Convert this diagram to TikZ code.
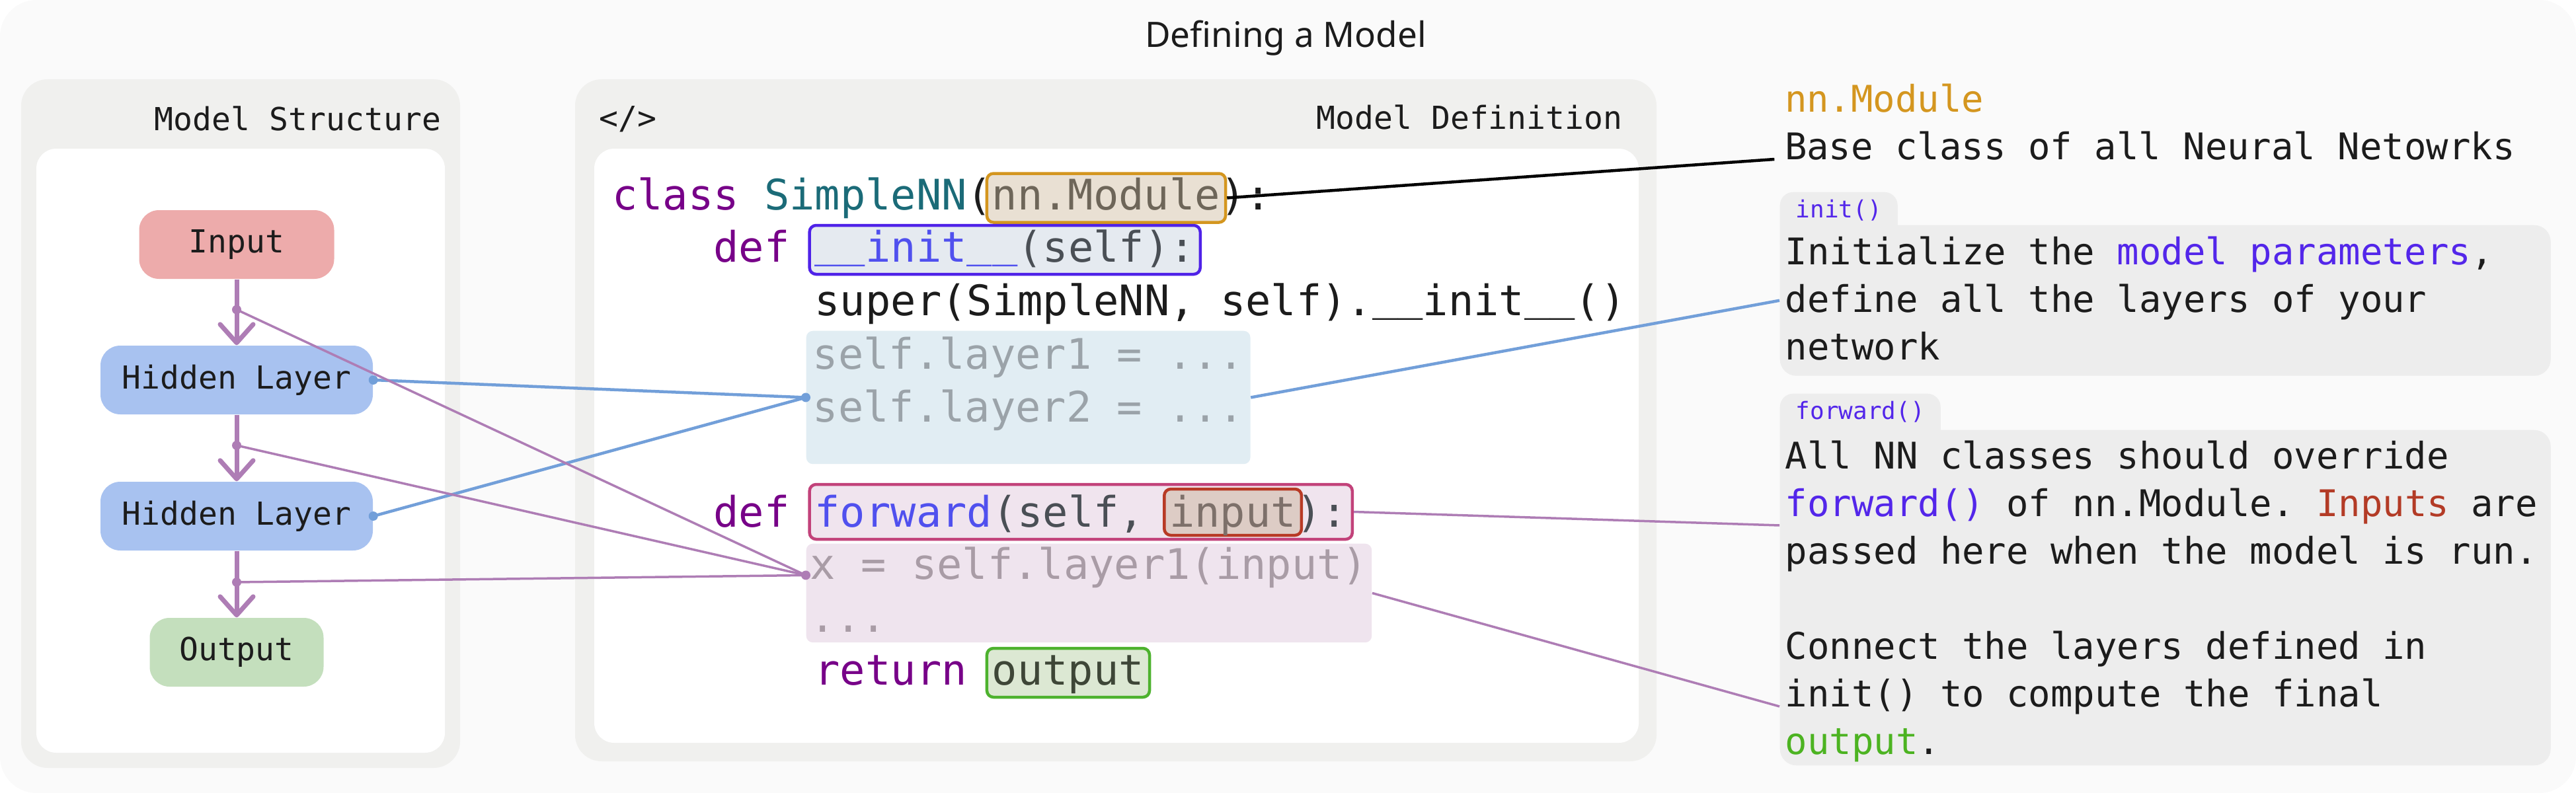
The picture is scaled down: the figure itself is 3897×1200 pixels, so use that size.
\documentclass[tikz,border=0pt]{standalone}
\usepackage{fontspec}
\setmonofont{DejaVu Sans Mono}
\newfontfamily\titlefont{Noto Sans}
\usetikzlibrary{arrows.meta}

\newdimen\px
\px=0.1mm

\definecolor{bgcol}{HTML}{FAFAFA}
\definecolor{panelcol}{HTML}{F0F0EE}
\definecolor{notecol}{HTML}{EDEDED}
\definecolor{inpcol}{HTML}{EDABAB}
\definecolor{hidcol}{HTML}{A8C2F0}
\definecolor{outcol}{HTML}{C4DFBD}
\definecolor{flowcol}{HTML}{AE7DB5}
\definecolor{linkcol}{HTML}{729FD9}
\definecolor{kwcol}{HTML}{770088}
\definecolor{clscol}{HTML}{1B6B78}
\definecolor{fncol}{HTML}{5050EE}
\definecolor{argcol}{HTML}{4A4F55}
\definecolor{modcol}{HTML}{D4961F}
\definecolor{modfill}{HTML}{E9E0D3}
\definecolor{modtxt}{HTML}{6E6659}
\definecolor{initcol}{HTML}{4F22E8}
\definecolor{initfill}{HTML}{E5EAF0}
\definecolor{layerfill}{HTML}{E1EDF3}
\definecolor{layertxt}{HTML}{9BA3A9}
\definecolor{fwdcol}{HTML}{C2427A}
\definecolor{fwdfill}{HTML}{F0E4EE}
\definecolor{argbox}{HTML}{B83A25}
\definecolor{argfill}{HTML}{DDCCC5}
\definecolor{argtxt}{HTML}{7D706A}
\definecolor{blockfill}{HTML}{EFE4EE}
\definecolor{blocktxt}{HTML}{A99CA6}
\definecolor{retcol}{HTML}{4DB22E}
\definecolor{retfill}{HTML}{DCE8D3}
\definecolor{rettxt}{HTML}{3E4637}
\definecolor{hicol}{HTML}{5326EA}
\definecolor{redcol}{HTML}{B33B26}
\definecolor{grncol}{HTML}{4CB321}
\definecolor{inkcol}{HTML}{1C1C1C}

\newcommand\codefont{\ttfamily\fontsize{18.12pt}{22.62pt}\selectfont}
\newcommand\notefont{\ttfamily\fontsize{15.82pt}{20.49pt}\selectfont}
\newcommand\labelfont{\ttfamily\fontsize{13.66pt}{16pt}\selectfont}
\newcommand\tabfont{\ttfamily\fontsize{10.24pt}{12pt}\selectfont}
\newcommand\cx[1]{926+#1*38.33}
\newcommand\us{\raisebox{8\px}{\_}}
\newcommand\monosp{\spaceskip=0pt\xspaceskip=0pt\relax}

\begin{document}
\begin{tikzpicture}[x=0.1mm, y=-0.1mm,
    panel/.style={fill=panelcol, rounded corners=40\px},
    sheet/.style={fill=white, rounded corners=30\px},
    label/.style={font=\labelfont, text=inkcol, inner sep=0},
    code/.style={font=\codefont, text=inkcol, inner sep=0, anchor=text},
    hl/.style={code, line width=4.5\px, rounded corners=10\px, inner xsep=8\px, inner ysep=5\px, text height=50\px, text depth=14\px},
    blk/.style={font=\codefont, inner ysep=0, rounded corners=10\px, align=left, anchor=north west},
    note/.style={fill=notecol, rounded corners=25\px, font=\notefont, text=inkcol, text width=1150\px, inner xsep=8\px, inner ysep=0, align=left, anchor=north west},
    tab/.style={fill=notecol, rounded corners=20\px, font=\tabfont, text=hicol, inner xsep=24\px, inner ysep=10\px, text height=29\px, text depth=50\px, anchor=north west},
    flow/.style={draw=flowcol, line width=7\px, -{Straight Barb[round, length=2.8mm, width=5mm]}},
    plink/.style={draw=flowcol, line width=3.5\px},
    blink/.style={draw=linkcol, line width=4.5\px},
    mlink/.style={draw=black, line width=4.5\px}]

  \useasboundingbox (0,0) rectangle (3897,1200);
  \fill[bgcol, rounded corners=55\px] (0,0) rectangle (3897,1200);
  \node[font={\titlefont\fontsize{15.08pt}{18pt}\selectfont}, text=inkcol, anchor=base] (title) at (1945,72) {Defining a Model};

  % model structure
  \fill[panel] (32,120) rectangle (696,1162);
  \fill[sheet] (55,225) rectangle (673,1139);
  \node[label, anchor=base east] (structlbl) at (668,197) {Model Structure};

  \begin{scope}[every node/.style={font=\labelfont, text=inkcol, rounded corners=30\px, minimum height=104\px}]
    \node[fill=inpcol, minimum width=295\px] (inp)  at (358,370) {Input};
    \node[fill=hidcol, minimum width=412\px] (hid1) at (358,575) {Hidden Layer};
    \node[fill=hidcol, minimum width=412\px] (hid2) at (358,781) {Hidden Layer};
    \node[fill=outcol, minimum width=263\px] (out)  at (358,987) {Output};
  \end{scope}

  \draw[flow] (inp)  -- coordinate[pos=0.46] (d1) (hid1);
  \draw[flow] (hid1) -- coordinate[pos=0.46] (d2) (hid2);
  \draw[flow] (hid2) -- coordinate[pos=0.47] (d3) (out);

  % model definition
  \fill[panel] (870,120) rectangle (2506,1152);
  \fill[sheet] (899,225) rectangle (2479,1124);
  \node[label, anchor=base west] (tag) at (906,196) {</>};
  \node[label, anchor=base east] (deflbl) at (2455,196) {Model Definition};

  \node[hl, draw=modcol, fill=modfill, text=modtxt] (hlmod) at ({\cx{15}},317.5) {nn.Module};
  \node[hl, draw=initcol, fill=initfill, text=argcol] (hlinit) at ({\cx{8}},396) {\textcolor{fncol}{\us\us init\us\us}(self):};
  \node[blk, fill=layerfill, text=layertxt, inner xsep=10\px] (layerblk) at (1219,500)
    {\rule{0pt}{58\px}self.layer1 = ...\\self.layer2 = ...\rule[-64\px]{0pt}{0pt}};
  \node[hl, draw=fwdcol, fill=fwdfill, text=argcol, text height=59\px] (hlfwd) at ({\cx{8}},797) {\textcolor{fncol}{forward}(self, \phantom{input}):};
  \node[hl, draw=argbox, fill=argfill, text=argtxt, text height=52\px, text depth=8\px] (hlarg) at ({\cx{22}},797) {input};
  \node[blk, fill=blockfill, text=blocktxt, inner xsep=6\px] (fwdblk) at (1219,822)
    {\rule{0pt}{54\px}x = self.layer1(input)\\...\rule[-16\px]{0pt}{0pt}};
  \node[hl, draw=retcol, fill=retfill, text=rettxt] (hlret) at ({\cx{15}},1036) {output};

  \node[code] (line1) at ({\cx{0}},317.5) {\textcolor{kwcol}{class} \textcolor{clscol}{SimpleNN}(\phantom{nn.Module}):};
  \node[code] (line2) at ({\cx{4}},396) {\textcolor{kwcol}{def}};
  \node[code] (line3) at ({\cx{8}},477) {super(SimpleNN, self).\us\us init\us\us()};
  \node[code] (line6) at ({\cx{4}},797) {\textcolor{kwcol}{def}};
  \node[code] (line9) at ({\cx{8}},1036) {\textcolor{kwcol}{return}};

  % notes
  \node[font=\notefont, text=modcol, inner sep=0, anchor=text] (modname) at (2700,169.5) {nn.Module};
  \node[font=\notefont, text=inkcol, inner sep=0, anchor=text] (modtext) at (2700,241) {Base class of all Neural Netowrks};

  \node[tab] (inittab) at (2692,290) {init()};
  \node[note] (initnote) at (2692,340)
    {\monosp\rule{0pt}{60\px}Initialize the \textcolor{hicol}{model parameters},\\
     define all the layers of your\\
     network\rule[-24\px]{0pt}{0pt}};

  \node[tab] (fwdtab) at (2692,595) {forward()};
  \node[note] (fwdnote) at (2692,650)
    {\monosp\rule{0pt}{58.5\px}All NN classes should override\\
     \textcolor{hicol}{forward()} of nn.Module. \textcolor{redcol}{Inputs} are\\
     passed here when the model is run.\\[72\px]
     Connect the layers defined in\\
     init() to compute the final\\
     \textcolor{grncol}{output}.\rule[-17\px]{0pt}{0pt}};

  % connectors
  \coordinate (fwdin) at ([yshift=2.7mm]fwdblk.west);
  \coordinate (fwdpin) at ([yshift=-14.5mm]fwdnote.north west);
  \coordinate (blkpin) at ([yshift=-41.9mm]fwdnote.north west);

  \draw[mlink] (hlmod.east) -- ([xshift=-15\px]modtext.base west);
  \draw[blink] (hid1.east) -- (layerblk.west);
  \draw[blink] (hid2.east) -- (layerblk.west);
  \draw[blink] (layerblk.east) -- (initnote.west);
  \draw[plink] (d1) -- (fwdin);
  \draw[plink] (d2) -- (fwdin);
  \draw[plink] (d3) -- (fwdin);
  \draw[plink] (hlfwd.east) -- (fwdpin);
  \draw[plink] (fwdblk.east) -- (blkpin);

  \fill[linkcol] (hid1.east) circle[radius=7\px];
  \fill[linkcol] (hid2.east) circle[radius=7\px];
  \fill[linkcol] (layerblk.west) circle[radius=7\px];
  \fill[flowcol] (d1) circle[radius=7\px];
  \fill[flowcol] (d2) circle[radius=7\px];
  \fill[flowcol] (d3) circle[radius=7\px];
  \fill[flowcol] (fwdin) circle[radius=7\px];

\end{tikzpicture}
\end{document}
